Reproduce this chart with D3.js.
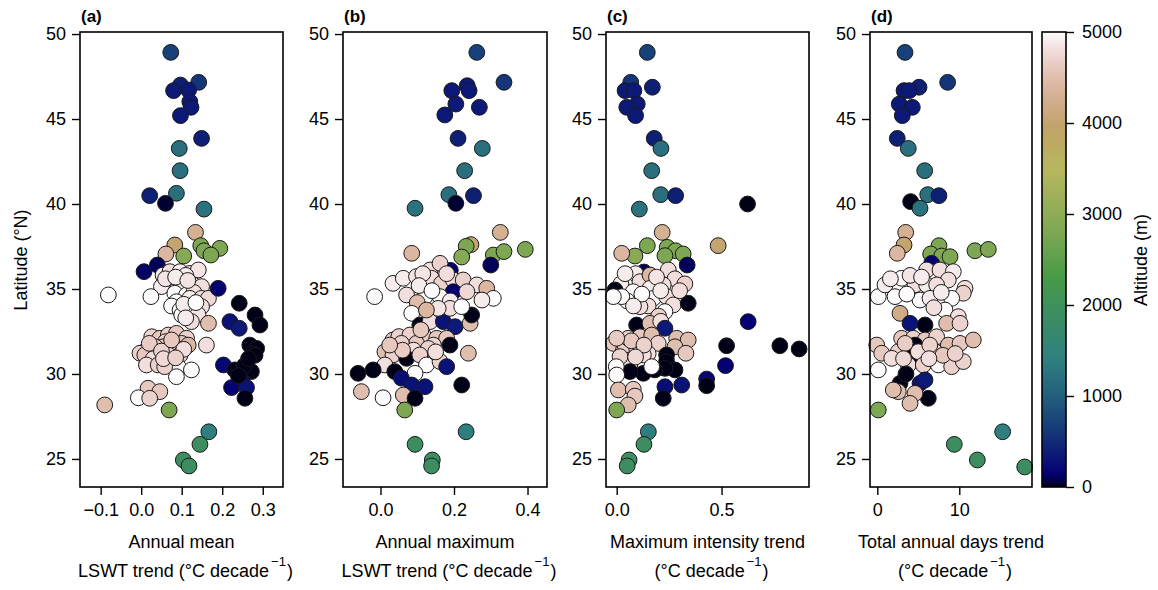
<!DOCTYPE html>
<html><head><meta charset="utf-8">
<script src="https://cdn.jsdelivr.net/npm/d3@7"></script>
<style>body{margin:0;background:#fff}svg{display:block}text{font-family:"Liberation Sans",Arial,sans-serif;fill:#000}</style>
</head><body><svg id="c" width="1158" height="590"></svg>
<script>
// ---- data: [x value, latitude (°N), altitude (m)] ----
const panelA = [
[0.073,48.92,700],[0.142,47.16,600],[0.097,47.0,400],[0.080,46.67,350],[0.117,46.7,350],[0.120,46.02,350],[0.123,45.69,350],[0.097,45.2,350],[0.149,43.86,400],[0.094,43.27,1200],[0.096,41.96,1200],[0.021,40.49,400],[0.087,40.63,1200],[0.060,40.04,30],[0.155,39.7,1250],[0.134,38.33,4300],[0.083,37.59,4000],[0.061,37.06,4400],[0.105,36.94,2900],[0.147,37.55,2800],[0.155,37.25,2800],[0.194,37.39,2800],[0.172,37.0,2800],[0.007,36.02,120],[0.040,36.41,100],
[0.054,35.82,4900],[0.071,36.02,4800],[0.096,36.02,4900],[0.120,35.92,4800],[0.141,36.12,4850],[0.11,35.8,4900],[0.067,35.33,5000],[0.100,35.43,4800],[0.128,35.24,4850],[0.149,35.14,4800],[0.050,35.14,4900],[0.09,35.0,4900],[0.083,34.75,5000],[0.112,34.65,5000],[0.13,34.8,4800],[0.087,34.25,5000],[0.120,34.45,4900],[0.149,34.45,4800],[0.166,34.45,4750],[0.075,34.0,5000],[0.096,33.76,5000],[0.120,33.86,4900],[0.149,33.96,4800],[0.14,33.5,4850],[0.100,33.47,5000],[0.124,33.08,4800],[0.166,32.98,4500],[-0.081,34.65,5000],[0.024,34.55,5000],[0.190,35.04,150],
[0.06,35.6,4850],[0.085,35.7,4900],[0.115,35.5,4850],[0.105,34.1,4900],[0.135,34.2,5000],[0.11,33.3,4900],
[0.242,34.16,10],[0.281,33.47,10],[0.293,32.88,10],[0.219,33.08,300],[0.242,32.69,350],[0.268,31.7,10],[0.285,31.5,10],[0.275,31.2,10],[0.281,31.1,10],[0.203,30.53,200],[0.231,30.24,10],[0.272,30.14,10],[0.255,30.5,10],[0.248,29.6,250],[0.223,29.2,150],[0.26,29.2,300],[0.256,28.57,10],[0.265,30.9,10],[0.24,29.9,10],
[0.026,32.19,4700],[0.046,32.1,4600],[0.067,32.29,4700],[0.087,32.39,4600],[0.112,32.1,4700],[0.06,31.9,4700],[0.10,31.8,4600],[0.079,31.7,4700],[0.054,31.6,4600],[0.034,31.6,4700],[0.085,31.4,4700],[0.116,31.7,4400],[0.013,31.41,4800],[-0.003,31.22,4700],[0.009,31.12,4600],[0.038,31.12,4700],[0.067,31.12,4800],[0.096,31.12,4700],[0.03,30.9,4800],[0.013,30.53,4800],[0.042,30.53,4700],[0.071,30.73,4800],[0.091,30.43,5000],[0.058,30.43,4700],[0.124,30.24,5000],[0.087,29.84,5000],[0.161,31.7,4800],
[0.02,31.8,4650],[0.05,31.35,4700],[0.075,32.0,4600],[0.105,31.45,4800],[0.055,30.9,4750],[0.085,30.95,4700],
[0.017,29.16,4600],[0.046,28.96,4600],[-0.007,28.6,5000],[0.021,28.57,4700],[-0.09,28.18,4500],[0.069,27.88,2800],
[0.167,26.6,1400],[0.145,25.86,1900],[0.104,24.94,1900],[0.118,24.59,1900]
];
const panelB = [
[0.262,48.92,700],[0.336,47.16,600],[0.236,46.96,350],[0.194,46.67,350],[0.241,46.67,350],[0.205,45.88,350],[0.269,45.69,350],[0.175,45.24,350],[0.211,43.86,400],[0.277,43.27,1200],[0.229,41.96,1200],[0.186,40.55,1200],[0.253,40.49,400],[0.205,40.04,30],[0.094,39.75,1250],[0.326,38.33,4300],[0.246,37.61,4000],[0.233,37.51,2800],[0.085,37.1,4400],[0.221,36.88,2900],[0.307,37.0,2800],[0.336,37.2,2800],[0.394,37.33,2800],[0.300,36.41,100],[0.19,36.1,120],
[-0.016,34.55,5000],[0.034,35.33,4900],[0.062,35.63,4900],[0.098,35.73,4850],[0.135,36.12,4800],[0.162,36.51,4700],[0.139,35.63,4800],[0.166,35.33,4700],[0.198,35.53,4800],[0.225,35.53,4700],[0.262,35.24,4800],[0.289,35.04,4400],[0.307,34.45,5000],[0.276,34.35,4900],[0.198,34.84,150],[0.235,34.84,4750],[0.071,34.65,4800],[0.121,34.55,5000],[0.162,34.55,5000],
[0.115,35.9,4850],[0.18,35.9,4800],[0.105,35.2,4900],[0.14,34.9,5000],[0.1,34.2,4500],[0.19,34.3,4900],
[0.085,33.57,5000],[0.107,32.88,10],[0.135,33.08,4800],[0.171,33.08,300],[0.203,32.78,350],[0.244,32.98,4500],[0.248,33.47,10],[0.189,33.86,4800],[0.221,33.96,5000],[0.157,33.86,4850],[0.125,33.76,4400],
[0.034,32.0,4600],[0.05,32.2,4700],[0.08,32.29,4700],[0.116,32.29,4700],[0.153,32.1,4600],[0.18,32.1,4600],[0.144,31.7,4700],[0.098,31.8,4600],[0.057,31.8,4700],[0.13,31.5,4700],[0.09,31.4,4800],[0.189,31.7,10],[0.012,31.31,4500],[0.034,31.12,4700],[0.071,30.92,10],[0.107,31.12,4700],[0.125,30.53,5000],[0.162,30.73,4700],[0.18,30.43,300],[0.012,30.53,4800],[0.239,31.22,4500],
[0.06,31.4,4650],[0.11,32.6,4600],[0.15,31.3,4800],[0.025,31.7,4600],
[-0.061,30.04,10],[-0.02,30.24,10],[0.039,30.14,10],[0.094,30.04,5000],[0.057,29.75,250],[0.085,29.35,300],[0.121,29.25,300],[0.221,29.35,10],[-0.052,28.96,4500],[0.007,28.6,5000],[0.062,28.76,4500],[0.094,28.57,10],[0.066,27.88,2800],
[0.233,26.6,1400],[0.094,25.86,1900],[0.141,24.94,1900],[0.139,24.59,1900]
];
const panelC = [
[0.146,48.92,700],[0.067,47.16,600],[0.17,46.87,400],[0.04,46.67,350],[0.082,46.67,350],[0.098,45.88,350],[0.048,45.69,350],[0.09,45.2,350],[0.179,43.86,400],[0.211,43.27,1200],[0.167,41.96,1200],[0.21,40.55,1200],[0.281,40.49,400],[0.624,40.0,10],[0.108,39.7,1250],[0.217,38.33,4300],[0.484,37.55,4000],[0.146,37.55,2800],[0.241,37.45,2800],[0.281,37.25,2800],[0.317,37.06,2800],[0.23,36.96,2800],[0.087,36.94,2950],[0.024,37.1,4400],[0.336,36.41,100],[0.13,36.0,100],
[0.246,36.12,4800],[0.278,35.6,4800],[0.325,35.3,4700],[0.063,35.63,5000],[0.09,35.9,4900],[0.111,35.43,4800],[0.159,35.82,4400],[0.222,35.24,4800],[0.02,35.3,4900],[-0.008,34.94,10],[0.079,34.84,5000],[0.159,35.04,4900],[0.174,34.45,5000],[0.238,34.55,4800],[0.27,34.06,4800],[0.15,34.0,4800],[0.05,34.3,5000],[0.111,33.96,4800],[0.024,34.55,5000],[-0.016,34.55,5000],[0.23,33.67,5000],[0.2,33.4,4700],[0.341,34.16,10],
[0.04,35.9,4900],[0.19,35.7,4850],[0.12,34.7,5000],[0.21,34.9,4900],[0.08,34.0,4900],[0.3,34.9,4800],
[0.095,32.88,10],[0.159,32.98,4500],[0.21,33.1,4800],[0.23,32.69,350],[0.627,33.08,150],[0.524,31.66,10],[0.778,31.66,10],[0.87,31.47,10],[0.519,30.49,150],[0.429,29.7,200],[0.429,29.31,10],
[-0.016,31.8,4600],[0.032,31.41,4500],[0.04,31.7,4700],[0.095,31.51,4700],[0.055,32.1,4700],[0.111,32.19,4600],[0.167,32.29,4500],[0.198,31.8,4700],[0.286,32.1,4500],[0.341,32.0,4500],[0.278,31.6,4500],[0.33,31.22,4600],[0.15,31.2,4800],[0.127,31.12,4800],[0.063,30.53,4800],[0.016,31.02,4700],
[0.07,31.95,4600],[0.13,31.7,4700],[0.0,32.1,4650],[0.09,31.0,4750],
[0.238,31.12,10],[0.238,30.73,10],[0.278,30.24,10],[0.23,30.33,10],[0.182,30.24,10],[0.127,30.04,10],[0.063,30.14,10],[0.167,30.43,5000],[-0.002,30.43,5000],[0.0,29.94,5000],[0.31,29.35,300],[0.23,29.25,250],[0.222,28.57,10],
[0.008,29.06,4500],[0.079,29.1,4600],[0.087,28.7,4600],[0.055,28.18,4500],[0.0,27.88,2800],
[0.151,26.6,1400],[0.13,25.86,1900],[0.059,24.94,1900],[0.05,24.59,1900]
];
const panelD = [
[3.38,48.92,700],[8.58,47.16,600],[5.09,46.87,400],[3.26,46.67,350],[3.9,46.67,350],[2.68,45.88,350],[4.27,45.69,350],[3.05,45.2,350],[2.44,43.86,400],[3.78,43.27,1200],[5.78,41.96,1200],[6.15,40.55,1200],[7.52,40.49,400],[4.07,40.14,10],[5.21,39.75,1250],[3.46,38.33,4300],[3.26,37.59,4000],[2.44,37.1,4400],[7.52,37.55,2800],[6.51,37.06,2800],[7.85,36.94,2800],[8.87,36.9,2800],[11.91,37.25,2800],[13.54,37.33,2800],[6.63,36.51,150],
[6.02,36.12,4800],[7.65,36.12,4800],[9.27,36.02,4900],[8.66,35.53,4800],[10.7,35.04,4800],[10.49,34.75,4700],[0.12,34.55,5000],[2.16,34.55,5000],[0.94,35.24,4900],[2.97,35.63,5000],[4.6,35.24,4800],[6.02,35.24,4900],[7.24,35.24,4800],[5.21,34.35,5000],[6.43,34.45,4900],[9.07,34.45,5000],[8.26,33.76,5000],[9.88,33.37,4800],[8.46,32.98,4500],[2.77,33.57,4200],[3.99,32.98,300],[5.82,32.88,10],[10.09,32.98,4700],
[1.6,35.6,4900],[4.0,35.8,4850],[5.4,35.7,4900],[3.6,34.7,5000],[7.8,34.8,4900],[6.9,33.9,4800],
[-0.07,31.7,4600],[0.54,31.22,4600],[2.97,32.1,4600],[4.39,32.1,4700],[5.82,32.0,4600],[7.24,32.19,4700],[8.66,31.7,4500],[10.09,31.8,4600],[11.71,32.0,4500],[4.6,31.7,10],[4.39,31.12,10],[7.04,31.31,4700],[5.0,31.31,4800],[3.78,30.53,4800],[5.61,30.53,4700],[7.44,30.53,5000],[9.07,30.43,4700],[10.49,30.73,4700],[2.56,31.31,4700],[1.76,30.92,4800],[0.12,30.24,5000],
[3.4,31.8,4650],[6.4,31.7,4700],[8.0,31.1,4600],[9.5,31.2,4700],[3.2,30.9,4750],[6.3,30.9,4800],
[2.77,29.45,10],[3.5,30.0,10],[5.21,29.45,300],[5.82,29.65,350],[6.22,28.57,10],[2.56,28.96,4500],[1.95,29.06,4500],[4.6,28.86,4500],[3.99,28.27,4500],[0.12,27.88,2800],
[15.29,26.6,1400],[9.39,25.86,1900],[12.2,24.94,1900],[17.98,24.53,1900]
];
const latTicks = [25,30,35,40,45,50];
const xTicksA = [-0.1,0.0,0.1,0.2,0.3];
const xTicksB = [0.0,0.2,0.4];
const xTicksC = [0.0,0.5];
const xTicksD = [0,10];
const altTicks = [0,1000,2000,3000,4000,5000];
const panelLetters = ["(a)","(b)","(c)","(d)"];
const labelLine1 = ["Annual mean","Annual maximum","Maximum intensity trend","Total annual days trend"];
const labelLine2 = ["LSWT trend (°C decade","LSWT trend (°C decade","(°C decade","(°C decade"];

// ---- gist_earth colormap ----
const GE = {
 r:[[0,0],[0.2824,0.1882],[0.4588,0.2714],[0.5490,0.4719],[0.6980,0.7176],[0.7882,0.7553],[1,0.9922]],
 g:[[0,0],[0.0275,0],[0.1098,0.1893],[0.1647,0.3035],[0.2078,0.3841],[0.2824,0.5020],[0.5216,0.6397],[0.6980,0.7171],[0.7882,0.6392],[0.7922,0.6413],[0.8,0.6447],[0.8078,0.6481],[0.8157,0.6549],[0.8667,0.6991],[0.8745,0.7103],[0.8824,0.7216],[0.8902,0.7323],[0.8980,0.7430],[0.9412,0.8275],[0.9569,0.8635],[0.9647,0.8816],[0.9961,0.9733],[1,0.9843]],
 b:[[0,0],[0.0039,0.1684],[0.0078,0.2212],[0.0275,0.4329],[0.0314,0.4549],[0.2824,0.5004],[0.4667,0.2748],[0.5451,0.3205],[0.7843,0.3961],[0.8941,0.6651],[1,0.9843]]
};
function seg(tab,t){for(let i=1;i<tab.length;i++){if(t<=tab[i][0]){const [x0,y0]=tab[i-1],[x1,y1]=tab[i];return y0+(y1-y0)*(t-x0)/(x1-x0);}}return tab[tab.length-1][1];}
function gistEarth(t){t=Math.max(0,Math.min(1,t));return d3.rgb(255*seg(GE.r,t),255*seg(GE.g,t),255*seg(GE.b,t)).toString();}
const color = d3.scaleLinear().domain([0,5000]).range([0,1]).clamp(true);

// ---- layout ----
const svg = d3.select("#c");
const plotTop=32, plotBottom=487;
const y = d3.scaleLinear().domain([23.35,50.12]).range([plotBottom,plotTop]);
const panels = [
 {data:panelA, dom:[-0.151,0.35], x0:80, x1:283, ticks:xTicksA, fmt:d3.format(".1f")},
 {data:panelB, dom:[-0.102,0.453], x0:343, x1:547, ticks:xTicksB, fmt:d3.format(".1f")},
 {data:panelC, dom:[-0.051,0.917], x0:606, x1:809, ticks:xTicksC, fmt:d3.format(".1f")},
 {data:panelD, dom:[-0.89,18.87], x0:870, x1:1032, ticks:xTicksD, fmt:d3.format("d")}
];
const FS=18, FT=18;
panels.forEach((p,i)=>{
  const x = d3.scaleLinear().domain(p.dom).range([p.x0,p.x1]);
  const g = svg.append("g");
  g.append("g").selectAll("circle").data(p.data).join("circle")
    .attr("cx",d=>x(d[0])).attr("cy",d=>y(d[1])).attr("r",7.9)
    .attr("fill",d=>gistEarth(color(d[2]))).attr("stroke","#1a1a1a").attr("stroke-width",1);
  g.append("rect").attr("x",p.x0).attr("y",plotTop).attr("width",p.x1-p.x0).attr("height",plotBottom-plotTop)
    .attr("fill","none").attr("stroke","#000").attr("stroke-width",1.6);
  const ax = g.append("g").attr("transform",`translate(0,${plotBottom})`)
    .call(d3.axisBottom(x).tickValues(p.ticks).tickFormat(p.fmt).tickSize(8).tickPadding(8));
  const ay = g.append("g").attr("transform",`translate(${p.x0},0)`)
    .call(d3.axisLeft(y).tickValues(latTicks).tickSize(8).tickPadding(6));
  [ax,ay].forEach(a=>{a.select(".domain").remove();a.selectAll("line").attr("stroke","#000").attr("stroke-width",1.4);
    a.selectAll("text").attr("font-size",FT).attr("font-family","Liberation Sans, Arial, sans-serif").attr("fill","#000");});
  g.append("text").attr("x",p.x0+1).attr("y",22).attr("font-weight","bold").attr("font-size",17).text(panelLetters[i]);
  const cx=(p.x0+p.x1)/2;
  g.append("text").attr("x",cx).attr("y",548).attr("text-anchor","middle").attr("font-size",FS).text(labelLine1[i]);
  const t2 = g.append("text").attr("x",cx+4).attr("y",577).attr("text-anchor","middle").attr("font-size",FS);
  t2.append("tspan").text(labelLine2[i]);
  t2.append("tspan").attr("dy",-11).attr("dx",2).attr("font-size",13).text("\u22121");
  t2.append("tspan").attr("dy",11).attr("dx",1).text(")");
});
svg.append("text").attr("transform","translate(27,260) rotate(-90)").attr("text-anchor","middle").attr("font-size",FS).text("Latitude (°N)");

// ---- colorbar ----
const cbx0=1042, cbx1=1066;
const defs = svg.append("defs");
const grad = defs.append("linearGradient").attr("id","ge").attr("x1",0).attr("y1",1).attr("x2",0).attr("y2",0);
d3.range(0,1.0001,0.01).forEach(t=>grad.append("stop").attr("offset",t).attr("stop-color",gistEarth(t)));
svg.append("rect").attr("x",cbx0).attr("y",plotTop).attr("width",cbx1-cbx0).attr("height",plotBottom-plotTop).attr("fill","url(#ge)")
  .attr("stroke","#000").attr("stroke-width",1.6);
const ya = d3.scaleLinear().domain([0,5000]).range([plotBottom,plotTop]);
const cax = svg.append("g").attr("transform",`translate(${cbx1},0)`)
  .call(d3.axisRight(ya).tickValues(altTicks).tickFormat(d3.format("d")).tickSize(8).tickPadding(8));
cax.select(".domain").remove();
cax.selectAll("line").attr("stroke","#000").attr("stroke-width",1.4);
cax.selectAll("text").attr("font-size",FT).attr("font-family","Liberation Sans, Arial, sans-serif").attr("fill","#000");
svg.append("text").attr("transform","translate(1147,260) rotate(-90)").attr("text-anchor","middle").attr("font-size",FS).text("Altitude (m)");
</script></body></html>
